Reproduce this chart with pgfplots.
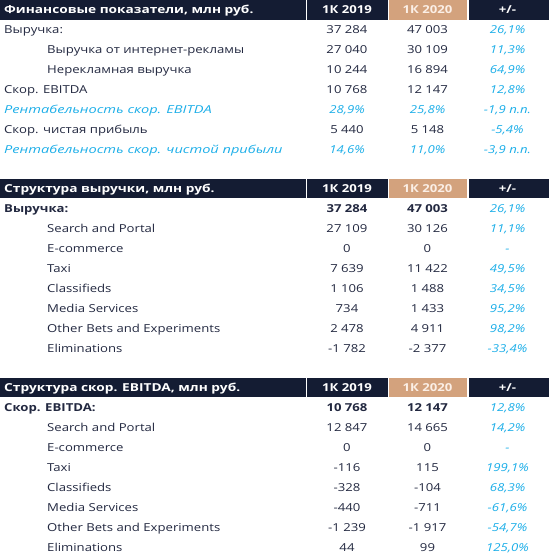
\documentclass[border=0pt]{standalone}
\usepackage{pgfplots}
\pgfplotsset{compat=1.18}
\usepackage{pgfplotstable}
\usepackage{fontspec}
\setmainfont{Open Sans}[FakeStretch=1.2]
\newfontfamily\wideB{Open Sans}[FakeStretch=1.25]
\newfontfamily\wideI{Open Sans}[FakeStretch=1.33]
\definecolor{navy}{HTML}{141C33}
\definecolor{tanC}{HTML}{D3A27D}
\definecolor{cyanT}{HTML}{1CAEE8}
\definecolor{txt}{HTML}{222840}
\definecolor{cream}{HTML}{FBEFE6}

% ordinary value rows: y  1K2019  1K2020
\pgfplotstableread{
y v19 v20
30.0 37284 47003
49.5 27040 30109
69.3 10244 16894
89.2 10768 12147
129.0 5440 5148
228.3 27109 30126
248.3 0 0
268.3 7639 11422
288.3 1106 1488
308.3 734 1433
328.3 2478 4911
348.3 -1782 -2377
427.3 12847 14665
447.3 0 0
467.3 -116 115
487.3 -328 -104
507.3 -440 -711
527.3 -1239 -1917
547.3 44 99
}\tabN
% bold total rows
\pgfplotstableread{
y v19 v20
208.3 37284 47003
407.3 10768 12147
}\tabB
% change, percent
\pgfplotstableread{
y chg
30.0 26.1
49.5 11.3
69.3 64.9
89.2 12.8
129.0 -5.4
208.3 26.1
228.3 11.1
268.3 49.5
288.3 34.5
308.3 95.2
328.3 98.2
348.3 -33.4
407.3 12.8
427.3 14.2
467.3 199.1
487.3 68.3
507.3 -61.6
527.3 -54.7
547.3 125.0
}\tabC
% margin rows (percent, change in p.p.)
\pgfplotstableread{
y v19 v20 chg
109.0 28.9 25.8 -1.9
149.0 14.6 11.0 -3.9
}\tabM
% rows without a change value
\pgfplotstableread{
y
248.3
447.3
}\tabD

\newcommand\fs{\fontsize{11}{13}\selectfont}
\tikzset{
  lbl/.style={anchor=west, inner sep=0pt, text height=8bp, text depth=0pt, font=\fs, text=txt},
  hdr/.style={anchor=center, inner sep=0pt, text height=8bp, text depth=0pt, font=\fs\bfseries, text=white},
}
\pgfplotsset{
  num/.style={draw=none, mark=none, point meta=explicit symbolic,
    nodes near coords style={anchor=center, inner sep=0pt, text height=8bp, text depth=0pt, font=\fs, text=txt}},
}
\begin{document}
\begin{tikzpicture}
\begin{axis}[
  width=549bp, height=559bp, scale only axis,
  xmin=0, xmax=549, ymin=0, ymax=559, y dir=reverse,
  axis lines=none, clip=false,
  /pgf/number format/assume math mode=true,
  nodes near coords align={center},
]
% header bars
\addplot[fill=navy, draw=none] coordinates {(0,0) (305.8,0) (305.8,20) (0,20)};
\addplot[fill=navy, draw=none] coordinates {(307.3,0) (387.5,0) (387.5,20) (307.3,20)};
\addplot[fill=tanC, draw=none] coordinates {(388.8,0) (467.2,0) (467.2,20) (388.8,20)};
\addplot[fill=navy, draw=none] coordinates {(468.6,0) (549,0) (549,20) (468.6,20)};
\addplot[fill=navy, draw=none] coordinates {(0,178.5) (305.8,178.5) (305.8,198) (0,198)};
\addplot[fill=navy, draw=none] coordinates {(307.3,178.5) (387.5,178.5) (387.5,198) (307.3,198)};
\addplot[fill=tanC, draw=none] coordinates {(388.8,178.5) (467.2,178.5) (467.2,198) (388.8,198)};
\addplot[fill=navy, draw=none] coordinates {(468.6,178.5) (549,178.5) (549,198) (468.6,198)};
\addplot[fill=navy, draw=none] coordinates {(0,377.5) (305.8,377.5) (305.8,397) (0,397)};
\addplot[fill=navy, draw=none] coordinates {(307.3,377.5) (387.5,377.5) (387.5,397) (307.3,397)};
\addplot[fill=tanC, draw=none] coordinates {(388.8,377.5) (467.2,377.5) (467.2,397) (388.8,397)};
\addplot[fill=navy, draw=none] coordinates {(468.6,377.5) (549,377.5) (549,397) (468.6,397)};
% header texts
\node[hdr, anchor=west, font=\fs\wideB\bfseries] at (axis cs:4,10) {Финансовые показатели, млн руб.};
\node[hdr, anchor=west, font=\fs\wideB\bfseries] at (axis cs:4,188.3) {Структура выручки, млн руб.};
\node[hdr, anchor=west, font=\fs\wideB\bfseries] at (axis cs:4,387.3) {Структура скор. EBITDA, млн руб.};
\pgfplotsinvokeforeach{10,188.3,387.3}{
  \node[hdr] at (axis cs:347,#1) {1К 2019};
  \node[hdr, text=cream] at (axis cs:427.5,#1) {1К 2020};
  \node[hdr] at (axis cs:507.5,#1) {+/-};
}
% row labels
\node[lbl] at (axis cs:4,30) {Выручка:};
\node[lbl] at (axis cs:47,49.5) {Выручка от интернет-рекламы};
\node[lbl] at (axis cs:47,69.3) {Нерекламная выручка};
\node[lbl] at (axis cs:4,89.2) {Скор. EBITDA};
\node[lbl, text=cyanT, font=\fs\wideI\itshape] at (axis cs:4,109) {Рентабельность скор. EBITDA};
\node[lbl] at (axis cs:4,129) {Скор. чистая прибыль};
\node[lbl, text=cyanT, font=\fs\wideI\itshape] at (axis cs:4,149) {Рентабельность скор. чистой прибыли};
\node[lbl, font=\fs\bfseries] at (axis cs:4,208.3) {Выручка:};
\node[lbl, font=\fs\bfseries] at (axis cs:4,407.3) {Скор. EBITDA:};
\node[lbl] at (axis cs:47,228.3) {Search and Portal};
\node[lbl] at (axis cs:47,248.3) {E-commerce};
\node[lbl] at (axis cs:47,268.3) {Taxi};
\node[lbl] at (axis cs:47,288.3) {Classifieds};
\node[lbl] at (axis cs:47,308.3) {Media Services};
\node[lbl] at (axis cs:47,328.3) {Other Bets and Experiments};
\node[lbl] at (axis cs:47,348.3) {Eliminations};
\node[lbl] at (axis cs:47,427.3) {Search and Portal};
\node[lbl] at (axis cs:47,447.3) {E-commerce};
\node[lbl] at (axis cs:47,467.3) {Taxi};
\node[lbl] at (axis cs:47,487.3) {Classifieds};
\node[lbl] at (axis cs:47,507.3) {Media Services};
\node[lbl] at (axis cs:47,527.3) {Other Bets and Experiments};
\node[lbl] at (axis cs:47,547.3) {Eliminations};
% values
\addplot[num, nodes near coords={\pgfmathprintnumber[fixed,precision=0,1000 sep={\ }]{\pgfplotspointmeta}}]
  table[x expr=347, y=y, meta=v19] {\tabN};
\addplot[num, nodes near coords={\pgfmathprintnumber[fixed,precision=0,1000 sep={\ }]{\pgfplotspointmeta}}]
  table[x expr=427.5, y=y, meta=v20] {\tabN};
\addplot[num, nodes near coords={\bfseries\pgfmathprintnumber[fixed,precision=0,1000 sep={\ }]{\pgfplotspointmeta}}]
  table[x expr=347, y=y, meta=v19] {\tabB};
\addplot[num, nodes near coords={\bfseries\pgfmathprintnumber[fixed,precision=0,1000 sep={\ }]{\pgfplotspointmeta}}]
  table[x expr=427.5, y=y, meta=v20] {\tabB};
\addplot[num, nodes near coords style={text=cyanT, font=\fs\itshape},
  nodes near coords={\pgfmathprintnumber[fixed,fixed zerofill,precision=1,use comma]{\pgfplotspointmeta}\%}]
  table[x expr=507.5, y=y, meta=chg] {\tabC};
\addplot[num, nodes near coords style={text=cyanT, font=\fs\itshape},
  nodes near coords={\pgfmathprintnumber[fixed,fixed zerofill,precision=1,use comma]{\pgfplotspointmeta}\%}]
  table[x expr=347, y=y, meta=v19] {\tabM};
\addplot[num, nodes near coords style={text=cyanT, font=\fs\itshape},
  nodes near coords={\pgfmathprintnumber[fixed,fixed zerofill,precision=1,use comma]{\pgfplotspointmeta}\%}]
  table[x expr=427.5, y=y, meta=v20] {\tabM};
\addplot[num, nodes near coords style={text=cyanT, font=\fs\itshape},
  nodes near coords={\pgfmathprintnumber[fixed,fixed zerofill,precision=1,use comma]{\pgfplotspointmeta}~п.п.}]
  table[x expr=507.5, y=y, meta=chg] {\tabM};
\addplot[num, point meta=none, nodes near coords={-}, nodes near coords style={text=cyanT, font=\fs\itshape}]
  table[x expr=507.5, y=y] {\tabD};
\path[use as bounding box] (rel axis cs:0,0) rectangle (rel axis cs:1,1);
\end{axis}
\end{tikzpicture}
\end{document}
